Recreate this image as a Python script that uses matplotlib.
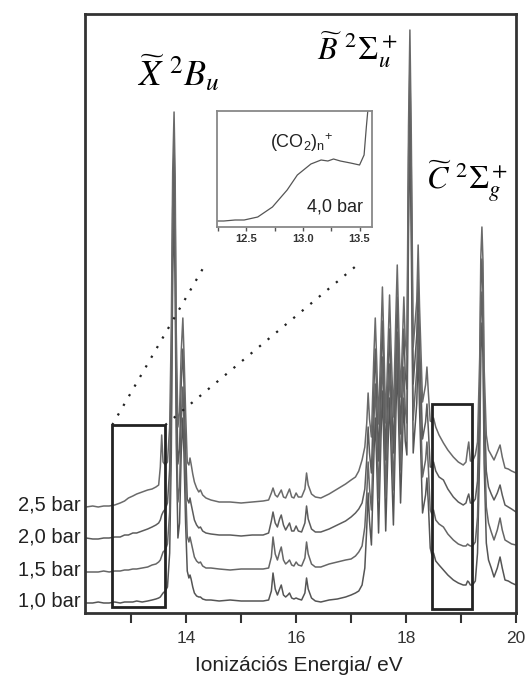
import numpy as np
import matplotlib as mpl
mpl.use('Agg')
import matplotlib.pyplot as plt
from matplotlib.patches import Rectangle

# photon energy grid (eV), shared by all four traces
energy = [12.18, 12.30, 12.40, 12.50, 12.60, 12.70, 12.80, 12.88, 12.95, 13.03,
          13.10, 13.20, 13.30, 13.38, 13.45, 13.50, 13.53, 13.555, 13.58, 13.62, 13.66,
          # X band
          13.70, 13.73, 13.755, 13.78, 13.80, 13.82, 13.85, 13.88, 13.91, 13.94,
          13.96, 13.99, 14.02, 14.05, 14.07, 14.09, 14.12, 14.15, 14.19, 14.23,
          14.26, 14.30, 14.36, 14.45,
          # flat part and small lines
          14.60, 14.80, 15.00, 15.20, 15.40, 15.50, 15.55, 15.58, 15.62, 15.66,
          15.70, 15.73, 15.77, 15.81, 15.85, 15.88, 15.92, 15.96, 16.00, 16.04,
          16.10, 16.16, 16.19, 16.22, 16.28, 16.35, 16.45,
          16.60, 16.75, 16.90, 17.00, 17.08, 17.14, 17.20, 17.25,
          # A and B bands
          17.285, 17.31, 17.335, 17.37, 17.415, 17.44, 17.465, 17.50, 17.545, 17.57,
          17.595, 17.63, 17.675, 17.70, 17.725, 17.77, 17.815, 17.84, 17.865, 17.90,
          17.935, 17.96, 17.985, 18.015, 18.045, 18.07, 18.095, 18.13, 18.195, 18.22,
          18.245, 18.30, 18.355, 18.38, 18.405, 18.44,
          # B tail
          18.47, 18.50, 18.54, 18.60, 18.68, 18.76, 18.86, 18.95, 19.04, 19.09,
          19.12, 19.14, 19.17, 19.21, 19.26, 19.30,
          # C band
          19.34, 19.36, 19.38, 19.40, 19.42, 19.46, 19.50, 19.55, 19.60, 19.66,
          19.71, 19.75, 19.80, 19.86, 19.92, 20.00]

# intensity above each trace's own baseline (arb. units)
int_10 = [0, 0, 1, 0, 0, 1, 0, 1, 1, 1, 2, 1, 2, 3, 4, 5, 6, 8, 10, 12, 16,
          50, 150, 330, 385, 320, 160, 65, 80, 150, 185, 150, 80, 32, 25, 28, 24, 16, 10, 7, 6, 6, 4, 3, 3,
          2, 3, 2, 2, 2, 3, 12, 30, 14, 8, 14, 18, 8, 6, 8, 10, 5, 4, 5, 4, 3, 10, 25, 14, 5, 2, 1,
          3, 4, 6, 8, 10, 12, 18, 35,
          75, 110, 82, 58, 148, 185, 142, 70, 168, 212, 162, 72, 162, 205, 158, 78, 188, 240, 182, 100,
          162, 205, 162, 148, 375, 470, 365, 150, 200, 255, 195, 90, 108, 125, 100, 55,
          48, 50, 42, 38, 33, 28, 23, 20, 18, 18, 22, 21, 18, 18, 22, 50,
          150, 250, 280, 245, 140, 60, 43, 35, 26, 35, 46, 35, 23, 22, 20, 18]
int_15 = [0, 0, 0, 1, 0, 1, 1, 2, 2, 3, 3, 4, 5, 7, 8, 10, 12, 16, 20, 22, 28,
          60, 160, 330, 390, 320, 165, 70, 85, 150, 185, 150, 85, 36, 30, 35, 30, 22, 15, 11, 9, 10, 6, 4, 4,
          3, 2, 3, 3, 3, 4, 15, 35, 18, 12, 20, 25, 12, 8, 10, 12, 7, 6, 10, 7, 6, 14, 30, 18, 8, 5, 5,
          8, 10, 12, 13, 16, 20, 26, 45,
          78, 110, 84, 62, 150, 188, 145, 74, 170, 215, 165, 75, 164, 208, 160, 82, 189, 240, 184, 102,
          163, 205, 163, 149, 377, 472, 368, 152, 202, 258, 197, 95, 112, 130, 105, 62,
          58, 62, 52, 48, 45, 38, 32, 28, 26, 26, 28, 27, 26, 26, 30, 55,
          150, 250, 280, 245, 140, 65, 49, 40, 32, 42, 54, 42, 32, 30, 28, 27]
int_20 = [1, 0, 0, 1, 1, 2, 2, 4, 4, 6, 6, 8, 10, 12, 14, 16, 19, 24, 27, 30, 36,
          70, 170, 330, 395, 325, 170, 75, 90, 155, 190, 155, 90, 40, 36, 41, 35, 27, 19, 14, 11, 12, 8, 6, 5,
          4, 4, 3, 4, 4, 6, 18, 27, 16, 12, 20, 24, 14, 9, 13, 16, 8, 8, 13, 8, 7, 16, 33, 20, 10, 7, 7,
          10, 14, 18, 22, 26, 30, 36, 50,
          80, 112, 86, 66, 151, 190, 146, 78, 171, 218, 166, 79, 166, 210, 161, 86, 190, 242, 186, 105,
          165, 210, 165, 150, 379, 475, 370, 155, 204, 260, 199, 100, 117, 135, 110, 72,
          72, 77, 68, 62, 59, 50, 42, 37, 34, 36, 42, 45, 36, 36, 40, 58,
          150, 250, 280, 245, 140, 68, 52, 45, 39, 46, 54, 44, 34, 32, 30, 27]
int_25 = [0, 1, 0, 1, 1, 2, 4, 6, 9, 11, 13, 15, 17, 18, 20, 22, 40, 72, 45, 42, 45,
          80, 180, 335, 395, 330, 175, 80, 95, 155, 189, 155, 95, 45, 42, 49, 43, 33, 25, 19, 15, 17, 12, 9, 7,
          5, 5, 4, 5, 6, 7, 14, 19, 12, 10, 14, 17, 10, 9, 14, 18, 10, 9, 14, 10, 10, 18, 34, 22, 13, 10, 9,
          13, 18, 23, 27, 30, 36, 47, 60,
          84, 114, 88, 70, 152, 189, 148, 83, 172, 220, 168, 84, 167, 212, 163, 90, 192, 242, 188, 110,
          166, 210, 166, 152, 381, 477, 372, 160, 206, 262, 201, 105, 122, 140, 115, 86,
          85, 89, 80, 72, 64, 57, 50, 45, 42, 45, 58, 65, 46, 46, 52, 65,
          150, 250, 280, 245, 140, 72, 57, 52, 47, 55, 62, 50, 39, 38, 36, 34]

traces = [int_10, int_15, int_20, int_25]
baselines = [10, 41, 74, 106]
pressure_labels = ['1,0 bar', '1,5 bar', '2,0 bar', '2,5 bar']
trace_colors = ['#555555', '#666666', '#5c5c5c', '#6a6a6a']

# 4,0 bar cluster region (inset)
inset_energy = [12.24, 12.30, 12.40, 12.48, 12.60, 12.73, 12.86, 12.95, 13.07,
                13.16, 13.22, 13.27, 13.33, 13.42, 13.50, 13.54, 13.56, 13.58, 13.61]
inset_int = [6, 6, 7, 7, 10, 20, 37, 52, 63,
             67, 66, 68, 66, 64, 62, 72, 100, 125, 140]

for t in traces:
    assert len(t) == len(energy)

plt.rcParams['font.family'] = ['Liberation Sans', 'DejaVu Sans']
plt.rcParams['mathtext.fontset'] = 'custom'
plt.rcParams['mathtext.rm'] = 'Liberation Sans'

W, H = 525, 680
fig = plt.figure(figsize=(W / 100.0, H / 100.0), dpi=100)
ax = fig.add_axes([85 / W, (H - 613) / H, 431 / W, 599 / H])

for y0, vals, col in zip(baselines, traces, trace_colors):
    ax.plot(energy, np.array(vals) + y0, color=col, lw=1.1)

ax.set_xlim(12.16, 20)
ax.set_ylim(0, 599)
ax.set_yticks([])
ax.set_xticks([14, 16, 18, 20])
ax.set_xticks([13, 15, 17, 19], minor=True)
ax.tick_params(axis='x', which='both', direction='out', length=7, width=1.5,
               colors='#333333', labelsize=12.5, pad=6)
for sp in ax.spines.values():
    sp.set_linewidth(2)
    sp.set_color('#333333')

for y0, lab in zip(baselines, pressure_labels):
    ax.text(-0.01, y0 + 2, lab, transform=ax.get_yaxis_transform(),
            ha='right', va='center', fontsize=14.5, color='#222222')

fig.text(299 / W, (H - 671) / H, 'Ionizációs Energia/ eV', ha='center',
         va='baseline', fontsize=15, color='#222222')

# boxes around the cluster regions
ax.add_patch(Rectangle((12.655, 6), 13.62 - 12.655, 182, fill=False, lw=2,
                       edgecolor='#222222', zorder=5))
ax.add_patch(Rectangle((18.467, 4), 19.205 - 18.467, 205, fill=False, lw=2,
                       edgecolor='#222222', zorder=5))
ax.plot([12.655, 14.31], [188, 345], ls=(0, (1, 4)), lw=1.6, color='#222222')
ax.plot([13.62, 17.09], [188, 347], ls=(0, (1, 4)), lw=1.6, color='#222222')

# state labels
ax.text(137 / W, (H - 86) / H, r'$\widetilde{X}\ ^2B_u$', transform=fig.transFigure,
        fontsize=26, va='baseline', ha='left', math_fontfamily='stix')
ax.text(317 / W, (H - 60) / H, r'$\widetilde{B}\ ^2\Sigma_u^+$', transform=fig.transFigure,
        fontsize=23, va='baseline', ha='left', math_fontfamily='stix')
ax.text(426 / W, (H - 189) / H, r'$\widetilde{C}\ ^2\Sigma_g^+$', transform=fig.transFigure,
        fontsize=23, va='baseline', ha='left', math_fontfamily='stix')

# inset
axi = fig.add_axes([217 / W, (H - 227) / H, 155 / W, 116 / H])
axi.plot(inset_energy, inset_int, color='#555555', lw=0.9)
axi.set_xlim(12.24, 13.61)
axi.set_ylim(0, 116)
axi.set_yticks([])
axi.set_xticks([12.5, 13.0, 13.5])
axi.set_xticklabels(['12.5', '13.0', '13.5'], fontweight='bold')
axi.set_xticks([12.25, 12.75, 13.25], minor=True)
axi.tick_params(axis='x', which='both', direction='out', length=3, width=1,
                colors='#555555', labelsize=8, pad=2)
axi.tick_params(axis='x', labelcolor='#333333')
for sp in axi.spines.values():
    sp.set_linewidth(1.3)
    sp.set_color('#888888')
axi.text(270 / W, (H - 148) / H, r'(CO$_\mathrm{2}$)$_\mathrm{n}$$^\mathrm{+}$',
         transform=fig.transFigure, fontsize=13, va='baseline', ha='left',
         color='#222222')
axi.text(363 / W, (H - 212) / H, '4,0 bar', transform=fig.transFigure,
         fontsize=13, va='baseline', ha='right', color='#222222')

fig.savefig('out.png', dpi=100, facecolor='white')
